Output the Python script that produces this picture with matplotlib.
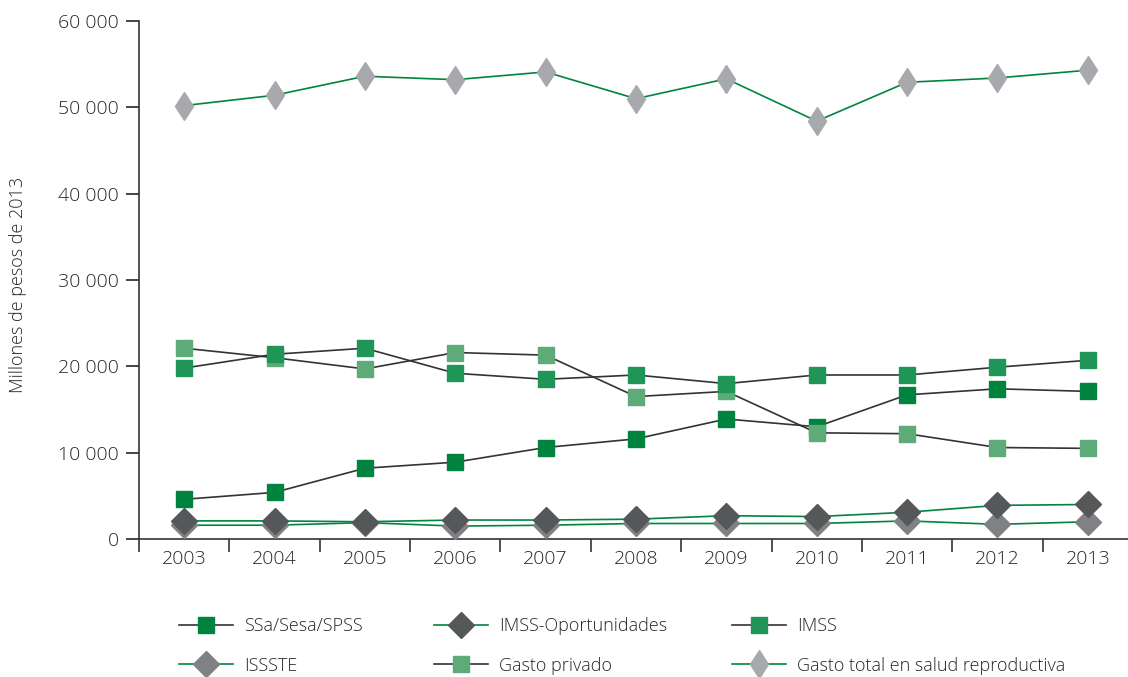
import matplotlib.pyplot as plt
from matplotlib.ticker import FuncFormatter
from matplotlib.lines import Line2D

years = [2003, 2004, 2005, 2006, 2007, 2008, 2009, 2010, 2011, 2012, 2013]

ssa = [4600, 5400, 8200, 8900, 10600, 11600, 13900, 13000, 16700, 17400, 17100]
imss_op = [2100, 2100, 2000, 2200, 2200, 2300, 2700, 2600, 3100, 3900, 4000]
imss = [19800, 21400, 22100, 19200, 18500, 19000, 18000, 19000, 19000, 19900, 20700]
issste = [1600, 1600, 1900, 1500, 1600, 1800, 1800, 1800, 2100, 1700, 2000]
privado = [22100, 21000, 19700, 21600, 21300, 16500, 17100, 12300, 12200, 10600, 10500]
total = [50200, 51400, 53600, 53200, 54100, 51000, 53300, 48400, 52900, 53400, 54300]

labels = ['SSa/Sesa/SPSS', 'IMSS-Oportunidades', 'IMSS', 'ISSSTE',
          'Gasto privado', 'Gasto total en salud reproductiva']

dark_line = '#333333'
green_line = '#00853f'
text_col = '#262626'

plt.rcParams['font.family'] = ['Open Sans', 'DejaVu Sans']

fig = plt.figure(figsize=(11.28, 6.77), dpi=100)
ax = fig.add_axes([0.1232, 0.2038, 0.8812, 0.7652])

# (values, line colour, marker, size, face colour, zorder)
series = [
    (issste, green_line, 'D', 13, '#808184', 3),
    (imss_op, green_line, 'D', 13, '#555759', 4),
    (ssa, dark_line, 's', 11.5, '#00833e', 5),
    (privado, dark_line, 's', 11.5, '#5eaa78', 5),
    (imss, dark_line, 's', 11.5, '#1f9557', 6),
    (total, green_line, 'd', 14.5, '#a7a9ac', 5),
]
for vals, lc, mk, ms, fc, z in series:
    ax.plot(years, vals, color=lc, lw=1.2, marker=mk, ms=ms,
            mfc=fc, mec=fc, zorder=z)

ax.set_xlim(2002.5, 2013.5)
ax.set_ylim(0, 60000)
ax.set_xticks(years)
ax.set_xticks([y + 0.5 for y in [2002] + years[:-1]], minor=True)
ax.tick_params(axis='x', which='major', length=0, pad=8, labelsize=14,
               colors=text_col)
ax.tick_params(axis='x', which='minor', length=9, width=1.2, color='#333333')
ax.set_yticks(range(0, 60001, 10000))
ax.yaxis.set_major_formatter(FuncFormatter(lambda v, p: f'{int(v):,}'.replace(',', ' ')))
ax.tick_params(axis='y', length=9.5, width=1.2, pad=5, labelsize=14,
               colors=text_col)
for lab in ax.get_xticklabels() + ax.get_yticklabels():
    lab.set_fontweight('light')

fig.text(0.016, 0.579, 'Millones de pesos de 2013', rotation=90,
         ha='center', va='center', fontsize=13, color=text_col,
         fontweight='light')

for s in ['top', 'right']:
    ax.spines[s].set_visible(False)
for s in ['left', 'bottom']:
    ax.spines[s].set_color('#333333')
    ax.spines[s].set_linewidth(1.2)

# legend: three columns of two rows each
handles = [Line2D([], [], color=lc, lw=1.2, marker=mk, ms=ms, mfc=fc, mec=fc)
           for vals, lc, mk, ms, fc, z in series]
order = [[2, 0], [1, 3], [4, 5]]
names = {2: labels[0], 0: labels[3], 1: labels[1], 3: labels[4],
         4: labels[2], 5: labels[5]}
col_x = [179, 434, 732]
for cx, idx in zip(col_x, order):
    leg = fig.legend([handles[i] for i in idx], [names[i] for i in idx],
                     loc='upper left', bbox_to_anchor=(cx / 1128, 1 - 617 / 677),
                     frameon=False, handlelength=3.0, handletextpad=0.6,
                     labelspacing=1.2, borderpad=0, borderaxespad=0,
                     prop={'family': ['Open Sans', 'DejaVu Sans'],
                           'size': 13, 'weight': 'light'},
                     labelcolor=text_col)

fig.savefig('out.png', dpi=100)
